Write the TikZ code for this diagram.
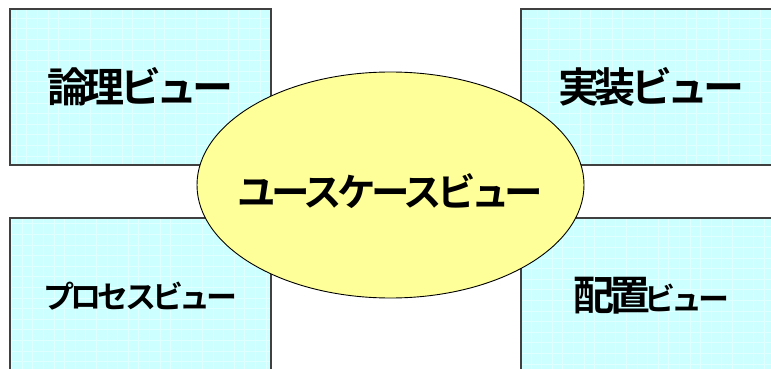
\documentclass[tikz,border=0pt]{standalone}
\usepackage{fontspec}
\usepackage{xcolor}
\usepackage{tikz}
\usetikzlibrary{shapes.geometric}
\newfontfamily\jpfont{Noto Sans CJK JP}[BoldFont={Noto Sans CJK JP Bold},LetterSpace=-12]
\definecolor{viewcyan}{HTML}{CCFFFF}
\definecolor{viewgrid}{HTML}{E0FFFF}
\definecolor{viewedge}{HTML}{404040}
\definecolor{caseyellow}{HTML}{FFFF99}

\begin{document}
\begin{tikzpicture}[x=1pt,y=-1pt,
  viewbox/.style={draw=viewedge,fill=viewcyan,line width=1.4pt,minimum width=261pt,minimum height=156pt,inner sep=0pt,
    font=\jpfont\bfseries\fontsize{41}{44}\selectfont,
    path picture={\draw[viewgrid,line width=0.5pt,step=10.6pt] (path picture bounding box.south west) grid (path picture bounding box.north east);}},
  small/.style={font=\jpfont\bfseries\fontsize{31}{34}\selectfont},
  usecase/.style={ellipse,draw=black,fill=caseyellow,line width=0.9pt,minimum width=387pt,minimum height=226pt,
    inner xsep=-20pt,inner ysep=0pt,text height=46pt,text depth=4pt,
    font=\jpfont\bfseries\fontsize{38.5}{42}\selectfont}]
  \useasboundingbox (0,0) rectangle (771,369);
  \clip (0,0) rectangle (771,369);
  \node[viewbox] (logical) at (140.5,87) {論理ビュー};
  \node[viewbox] (impl) at (651.5,87) {実装ビュー};
  \node[viewbox,small] (process) at (140.5,296) {プロセスビュー};
  \node[viewbox] (deploy) at (651.5,296) {配置\kern-6pt{\fontsize{31}{34}\selectfont ビュー}};
  \node[usecase] (usecase) at (390.5,185) {ユースケースビュー};
\end{tikzpicture}
\end{document}
